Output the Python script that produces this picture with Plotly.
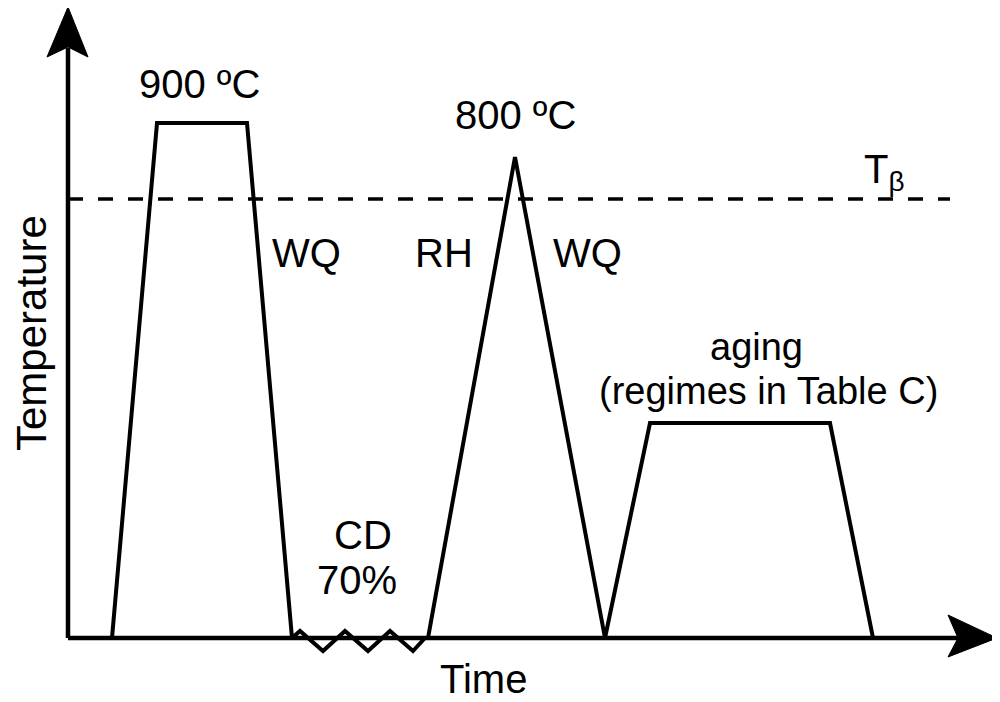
import plotly.graph_objects as go

# Heat-treatment schedule (schematic units: time / temperature above axis origin)
time_pts = [44, 89, 179, 224, 232, 255, 277, 300, 322, 345, 357, 360,
            447, 537, 582, 762, 805]
temp_pts = [0, 515, 515, 0, 7, -13, 7, -13, 7, -13, 0, 0,
            481, 0, 215, 215, 0]

# beta-transus line
tbeta_time = [0, 882]
tbeta_temp = [439, 439]

# axes extents
time_axis = [0, 890]
temp_axis = [0, 590]

# labels
label_text = ["900 ºC", "800 ºC", "WQ", "RH", "WQ", "CD", "70%", "Time"]
label_time = [131, 447, 238, 376, 519, 295, 289, 415]
label_temp = [554, 523, 385, 385, 385, 103, 58, -41]

aging_text = ["aging", "(regimes in Table C)"]
aging_time = [688, 700]
aging_temp = [291, 247]

FONT = "Liberation Sans, Arial, sans-serif"

fig = go.Figure()

# axes lines
fig.add_trace(go.Scatter(x=time_axis, y=[0, 0], mode="lines",
                         line=dict(color="black", width=4.5), hoverinfo="skip"))
fig.add_trace(go.Scatter(x=[0, 0], y=temp_axis, mode="lines",
                         line=dict(color="black", width=4.5), hoverinfo="skip"))

# arrow heads
fig.add_trace(go.Scatter(x=[880, 929, 880, 890, 880], y=[23, 0, -19, 0, 23],
                         mode="lines", fill="toself", fillcolor="black",
                         line=dict(color="black", width=1), hoverinfo="skip"))
fig.add_trace(go.Scatter(x=[-21, 0, 20, 0, -21], y=[581, 631, 581, 591, 581],
                         mode="lines", fill="toself", fillcolor="black",
                         line=dict(color="black", width=1), hoverinfo="skip"))

# T beta dashed
fig.add_trace(go.Scatter(x=tbeta_time, y=tbeta_temp, mode="lines",
                         line=dict(color="black", width=3.5, dash="15px,15px"),
                         hoverinfo="skip"))

# profile
fig.add_trace(go.Scatter(x=time_pts, y=temp_pts, mode="lines",
                         line=dict(color="black", width=4), hoverinfo="skip"))

for t, x, y in zip(label_text, label_time, label_temp):
    fig.add_annotation(x=x, y=y, text=t, showarrow=False,
                       font=dict(family=FONT, size=40, color="black"))

for t, x, y in zip(aging_text, aging_time, aging_temp):
    fig.add_annotation(x=x, y=y, text=t, showarrow=False,
                       font=dict(family=FONT, size=38, color="black"))

fig.add_annotation(x=816, y=466, text="T<sub>β</sub>", showarrow=False,
                   font=dict(family=FONT, size=40, color="black"))
fig.add_annotation(x=-37, y=305, text="Temperature", textangle=-90,
                   showarrow=False,
                   font=dict(family=FONT, size=42, color="black"))

# page body has an 8px margin, so the figure is 8px smaller on each side
fig.update_layout(
    width=992, height=694,
    margin=dict(l=0, r=0, t=0, b=0),
    paper_bgcolor="white", plot_bgcolor="white",
    showlegend=False,
    xaxis=dict(range=[-60, 932], visible=False, fixedrange=True),
    yaxis=dict(range=[-64, 630], visible=False, fixedrange=True),
)

fig.write_html("out.html")
